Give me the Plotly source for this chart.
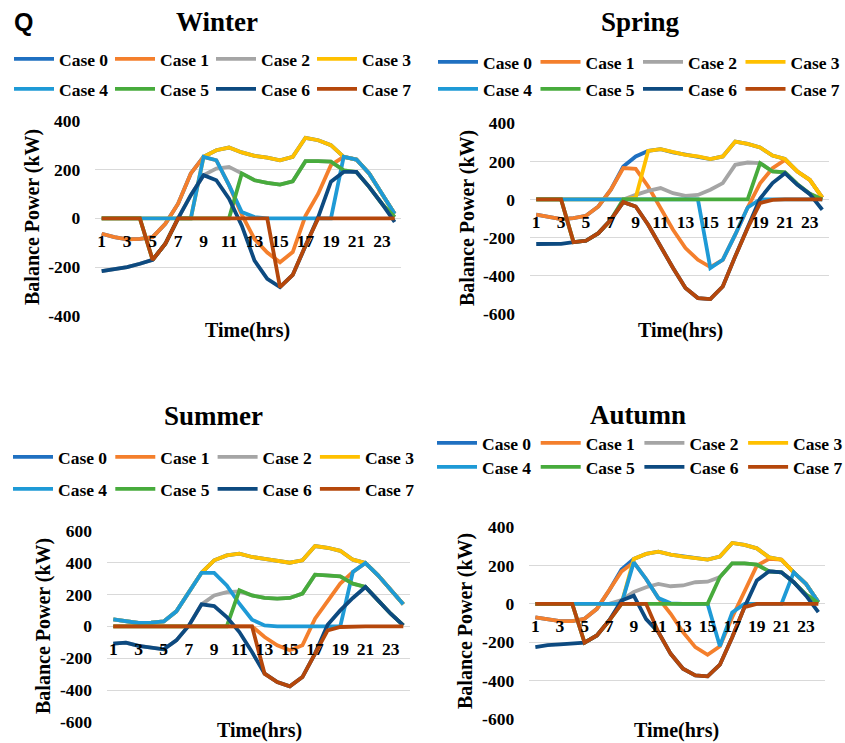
import plotly.graph_objects as go

W, H = 845, 743

hours = list(range(1, 25))
hour_ticks = list(range(1, 24, 2))
hour_labels = [str(h) for h in hour_ticks]

case_names = ["Case 0", "Case 1", "Case 2", "Case 3", "Case 4", "Case 5", "Case 6", "Case 7"]
case_colors = ["#1F70C1", "#F47F2C", "#A5A5A5", "#FFC000",
               "#1E9AD6", "#47AB3C", "#0D4A80", "#B5470B"]

# ---- Winter (kW) ----
winter_case0 = [-63, -77, -86, -84, -77, -22, 60, 184, 252, 279, 290, 270, 256, 249, 238, 252, 330, 320, 300, 252, 241, 184, 101, 19]
winter_case1 = [-63, -77, -86, -84, -77, -22, 60, 184, 252, 238, 136, 15, -85, -140, -180, -138, 10, 101, 218, 252, 241, 184, 101, 19]
winter_case2 = [-216, -207, -200, -186, -170, -104, 0, 95, 177, 204, 211, 184, 156, 145, 138, 152, 234, 234, 232, 197, 190, 129, 60, 5]
winter_case3 = [0, 0, 0, 0, 0, 0, 0, 0, 252, 279, 290, 270, 256, 249, 238, 252, 330, 320, 300, 252, 241, 184, 101, 19]
winter_case4 = [0, 0, 0, 0, 0, 0, 0, 0, 252, 238, 136, 26, 5, 0, 0, 0, 0, 0, 0, 252, 241, 184, 101, 19]
winter_case5 = [0, 0, 0, 0, -170, -104, 0, 0, 0, 0, 0, 184, 156, 145, 138, 152, 234, 234, 232, 197, 190, 129, 60, 5]
winter_case6 = [-216, -207, -200, -186, -170, -104, 0, 95, 177, 156, 81, -30, -173, -248, -282, -232, -111, 5, 150, 190, 190, 129, 60, -15]
winter_case7 = [0, 0, 0, 0, -170, -104, 0, 0, 0, 0, 0, 0, 0, 0, -282, -232, -111, 0, 0, 0, 0, 0, 0, 0]

# ---- Spring (kW) ----
spring_case0 = [-80, -93, -103, -98, -86, -37, 51, 173, 226, 255, 264, 247, 234, 226, 212, 226, 304, 292, 273, 231, 213, 147, 103, 10]
spring_case1 = [-80, -93, -103, -98, -86, -37, 51, 165, 161, 68, -45, -159, -255, -317, -355, -317, -185, -42, 85, 164, 208, 147, 103, 10]
spring_case2 = [0, 0, 0, 0, 0, 0, 0, 0, 24, 45, 60, 33, 19, 24, 51, 86, 182, 194, 191, 147, 142, 80, 30, 0]
spring_case3 = [0, 0, 0, 0, 0, 0, 0, 0, 10, 255, 264, 247, 234, 226, 212, 226, 304, 292, 273, 231, 213, 147, 103, 10]
spring_case4 = [0, 0, 0, 0, 0, 0, 0, 0, 0, 0, 0, 0, 0, 0, -360, -317, -185, -42, 0, 0, 0, 0, 0, 0]
spring_case5 = [0, 0, 0, -224, -217, -177, -107, 0, 0, 0, 0, 0, 0, 0, 0, 0, 0, 0, 191, 147, 142, 80, 30, 0]
spring_case6 = [-234, -231, -233, -224, -217, -177, -107, -14, -37, -133, -247, -360, -465, -518, -523, -457, -299, -150, 5, 86, 138, 77, 28, -54]
spring_case7 = [0, 0, 0, -224, -217, -177, -107, -14, -37, -133, -247, -360, -465, -518, -523, -457, -299, -150, -19, -2, 0, 0, 0, 0]

# ---- Summer (kW) ----
summer_case0 = [44, 31, 21, 23, 31, 94, 215, 336, 414, 445, 456, 435, 424, 414, 399, 414, 504, 493, 474, 418, 397, 320, 226, 138]
summer_case1 = [0, 0, 0, 0, 0, 0, 0, 0, 0, 0, 0, 0, -67, -119, -150, -119, 48, 163, 268, 341, 397, 320, 226, 138]
summer_case2 = [-109, -102, -123, -136, -144, -88, 6, 138, 194, 215, 219, 194, 178, 174, 178, 205, 324, 320, 314, 268, 247, 163, 79, 6]
summer_case3 = [44, 31, 21, 23, 31, 94, 215, 336, 414, 445, 456, 435, 424, 414, 399, 414, 504, 493, 474, 418, 397, 320, 226, 138]
summer_case4 = [44, 31, 21, 23, 31, 94, 215, 336, 336, 257, 142, 42, 6, 0, 0, 0, 0, 0, 0, 341, 397, 320, 226, 138]
summer_case5 = [0, 0, 0, 0, 0, 0, 0, 0, 0, 0, 226, 194, 178, 174, 178, 205, 324, 320, 314, 268, 247, 163, 79, 6]
summer_case6 = [-109, -102, -123, -136, -144, -88, 6, 138, 127, 58, -36, -161, -297, -349, -376, -318, -171, 10, 100, 178, 247, 163, 79, 6]
summer_case7 = [0, 0, 0, 0, 0, 0, 0, 0, 0, 0, 0, 0, -297, -349, -376, -318, -171, -25, -4, 0, 0, 0, 0, 0]

# ---- Autumn (kW) ----
autumn_case0 = [-70, -82, -90, -90, -78, -26, 70, 180, 235, 261, 273, 257, 247, 240, 231, 247, 318, 308, 290, 243, 231, 165, 104, 9]
autumn_case1 = [-70, -82, -90, -90, -78, -26, 70, 169, 217, 130, 30, -52, -148, -226, -266, -222, -70, 65, 200, 235, 231, 165, 104, 9]
autumn_case2 = [0, 0, 0, 0, 0, 0, 0, 20, 62, 87, 104, 92, 96, 113, 116, 140, 212, 212, 205, 170, 165, 113, 48, 5]
autumn_case3 = [0, 0, 0, 0, 0, 0, 0, 0, 235, 261, 273, 257, 247, 240, 231, 247, 318, 308, 290, 243, 231, 165, 104, 9]
autumn_case4 = [0, 0, 0, 0, 0, 0, 0, 0, 217, 130, 30, 3, 0, 0, 0, -221, -45, 0, 0, 0, 0, 165, 104, 9]
autumn_case5 = [0, 0, 0, 0, -203, -165, -87, 0, 0, 0, 0, 0, 0, 0, 0, 140, 212, 212, 205, 170, 165, 113, 48, 5]
autumn_case6 = [-226, -216, -212, -207, -203, -165, -87, 17, 43, -80, -148, -261, -339, -374, -379, -318, -174, -17, 122, 170, 165, 113, 43, -43]
autumn_case7 = [0, 0, 0, 0, -203, -165, -87, 0, 0, 0, -148, -261, -339, -374, -379, -318, -174, -17, 0, 0, 0, 0, 0, 0]

winter_yticks = [-400, -200, 0, 200, 400]
spring_yticks = [-600, -400, -200, 0, 200, 400]
summer_yticks = [-600, -400, -200, 0, 200, 400, 600]
autumn_yticks = [-600, -400, -200, 0, 200, 400]

SERIF = "Liberation Serif"


def fx(px):
    return px / W


def fy(py):
    return 1 - py / H


panels = [
    dict(title="Winter", series=[winter_case0, winter_case1, winter_case2, winter_case3,
                                 winter_case4, winter_case5, winter_case6, winter_case7],
         yticks=winter_yticks, box=(95.3, 401.0, 120.7, 316.0),
         title_xy=(217, 22), ytitle_xy=(32, 217), xtitle_xy=(248, 330),
         legend_x=14, legend_rows=(59, 89), entry=101),
    dict(title="Spring", series=[spring_case0, spring_case1, spring_case2, spring_case3,
                                 spring_case4, spring_case5, spring_case6, spring_case7],
         yticks=spring_yticks, box=(530.0, 828.5, 123.3, 313.7),
         title_xy=(640, 22), ytitle_xy=(467, 218), xtitle_xy=(680, 330),
         legend_x=438, legend_rows=(62, 89), entry=102.5),
    dict(title="Summer", series=[summer_case0, summer_case1, summer_case2, summer_case3,
                                 summer_case4, summer_case5, summer_case6, summer_case7],
         yticks=summer_yticks, box=(107.0, 409.6, 530.7, 722.0),
         title_xy=(213, 416), ytitle_xy=(43, 626), xtitle_xy=(259, 730),
         legend_x=13, legend_rows=(457, 489), entry=102.3),
    dict(title="Autumn", series=[autumn_case0, autumn_case1, autumn_case2, autumn_case3,
                                 autumn_case4, autumn_case5, autumn_case6, autumn_case7],
         yticks=autumn_yticks, box=(529.2, 824.5, 527.3, 718.7),
         title_xy=(638, 415), ytitle_xy=(465, 621), xtitle_xy=(676, 730),
         legend_x=437, legend_rows=(443, 467), entry=103.7),
]

fig = go.Figure()
layout = dict(
    width=W, height=H, margin=dict(l=0, r=0, t=0, b=0, autoexpand=False),
    paper_bgcolor="white", plot_bgcolor="white",
    showlegend=True,
    font=dict(family=SERIF, size=17, color="black"),
    annotations=[],
)

for i, p in enumerate(panels, start=1):
    sfx = "" if i == 1 else str(i)
    left, right, top, bottom = p["box"]
    ymin, ymax = min(p["yticks"]), max(p["yticks"])
    y_dom = [fy(bottom), fy(top)]
    zero_pos = y_dom[0] + (0 - ymin) / (ymax - ymin) * (y_dom[1] - y_dom[0])

    for k in range(8):
        row = 0 if k < 4 else 1
        leg_idx = 2 * (i - 1) + row + 1
        fig.add_trace(go.Scatter(
            x=hours, y=p["series"][k], mode="lines", name=case_names[k],
            line=dict(color=case_colors[k], width=3.8),
            xaxis="x" + sfx, yaxis="y" + sfx,
            legend="legend" if leg_idx == 1 else f"legend{leg_idx}",
            hoverinfo="x+y+name",
        ))

    # hour labels sit just under the zero line, as on a crossing category axis
    layout["xaxis" + sfx] = dict(
        domain=[fx(left), fx(right)], range=[0.5, 24.5],
        anchor="free", position=zero_pos, automargin=False,
        tickvals=hour_ticks, ticktext=hour_labels,
        showgrid=False, zeroline=False, showline=False, ticks="",
        ticklabelstandoff=10,
        tickfont=dict(family=SERIF, size=17.5, color="black", weight="bold"),
    )
    layout["yaxis" + sfx] = dict(
        domain=y_dom, range=[ymin, ymax], anchor="x" + sfx, automargin=False,
        tickvals=p["yticks"], ticktext=[str(v) for v in p["yticks"]],
        showgrid=True, gridcolor="#D9D9D9", gridwidth=1.3,
        zeroline=False, showline=False, ticks="",
        ticklabelstandoff=14,
        tickfont=dict(family=SERIF, size=17.5, color="black", weight="bold"),
    )

    for row in range(2):
        leg_idx = 2 * (i - 1) + row + 1
        key = "legend" if leg_idx == 1 else f"legend{leg_idx}"
        layout[key] = dict(
            orientation="h", x=fx(p["legend_x"] - 5), y=fy(p["legend_rows"][row]),
            xanchor="left", yanchor="middle", bgcolor="rgba(0,0,0,0)",
            borderwidth=0, itemwidth=40, entrywidthmode="pixels",
            entrywidth=p["entry"] - 55, traceorder="normal",
            font=dict(family=SERIF, size=17.5, color="black", weight="bold"),
        )

    tx, ty = p["title_xy"]
    layout["annotations"].append(dict(
        text=p["title"], x=fx(tx), y=fy(ty), xref="paper", yref="paper",
        xanchor="center", yanchor="middle", showarrow=False,
        font=dict(family=SERIF, size=27, color="black", weight="bold")))
    yx, yy = p["ytitle_xy"]
    layout["annotations"].append(dict(
        text="Balance Power (kW)", x=fx(yx), y=fy(yy), xref="paper", yref="paper",
        xanchor="center", yanchor="middle", textangle=-90, showarrow=False,
        font=dict(family=SERIF, size=20, color="black", weight="bold")))
    xx, xy = p["xtitle_xy"]
    layout["annotations"].append(dict(
        text="Time(hrs)", x=fx(xx), y=fy(xy), xref="paper", yref="paper",
        xanchor="center", yanchor="middle", showarrow=False,
        font=dict(family=SERIF, size=20, color="black", weight="bold")))

layout["annotations"].append(dict(
    text="Q", x=fx(23), y=fy(22), xref="paper", yref="paper",
    xanchor="center", yanchor="middle", showarrow=False,
    font=dict(family="Liberation Sans", size=25, color="black", weight="bold")))

fig.update_layout(**layout)
fig.write_html("out.html")
